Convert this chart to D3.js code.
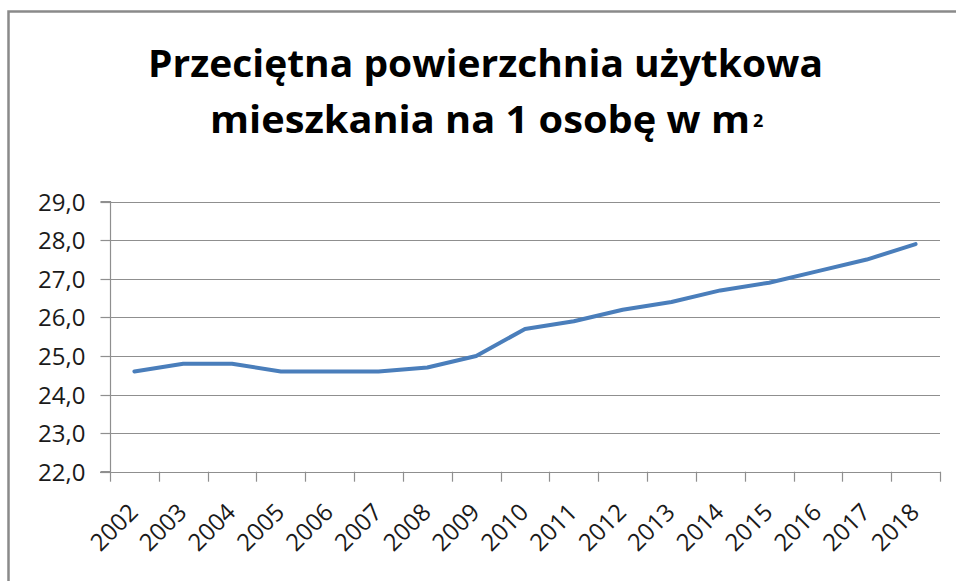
<!DOCTYPE html>
<html>
<head>
<meta charset="utf-8">
<script src="https://cdn.jsdelivr.net/npm/d3@7"></script>
<style>
  html, body { margin: 0; padding: 0; background: #fff; }
  svg { display: block; }
</style>
</head>
<body>
<svg id="chart" width="956" height="581"></svg>
<script>
const titleLine1 = "Przeciętna powierzchnia użytkowa";
const titleLine2 = "mieszkania na 1 osobę w m";
const titleSup = "2";
const years = ["2002","2003","2004","2005","2006","2007","2008","2009","2010","2011","2012","2013","2014","2015","2016","2017","2018"];
const values = [24.6, 24.8, 24.8, 24.6, 24.6, 24.6, 24.7, 25.0, 25.7, 25.9, 26.2, 26.4, 26.7, 26.9, 27.2, 27.5, 27.9];
const yTicks = [22, 23, 24, 25, 26, 27, 28, 29];

const svg = d3.select("#chart");
const font = "'Open Sans', 'Noto Sans', sans-serif";

// frame (left and top edges visible)
svg.append("path")
  .attr("d", "M8.5,581 L8.5,11.5 L956,11.5")
  .attr("fill", "none")
  .attr("stroke", "#8a8a8a")
  .attr("stroke-width", 2.5);

// title
svg.append("text")
  .attr("x", 148).attr("y", 77)
  .attr("font-family", font).attr("font-weight", 700).attr("font-size", 38)
  .attr("textLength", 675).attr("lengthAdjust", "spacingAndGlyphs")
  .attr("fill", "#000")
  .text(titleLine1);
svg.append("text")
  .attr("x", 210).attr("y", 133)
  .attr("font-family", font).attr("font-weight", 700).attr("font-size", 38)
  .attr("textLength", 540).attr("lengthAdjust", "spacingAndGlyphs")
  .attr("fill", "#000")
  .text(titleLine2);
svg.append("text")
  .attr("x", 753).attr("y", 127)
  .attr("font-family", font).attr("font-weight", 700).attr("font-size", 18)
  .attr("fill", "#000")
  .text(titleSup);

// scales
const x = d3.scaleBand().domain(years).range([110, 940]).paddingInner(0).paddingOuter(0);
const y = d3.scaleLinear().domain([22, 29]).range([471.7, 201.7]);

// gridlines
svg.append("g")
  .selectAll("line")
  .data(yTicks.slice(1))
  .join("line")
  .attr("x1", 110).attr("x2", 940)
  .attr("y1", d => Math.round(y(d)) + 0.5).attr("y2", d => Math.round(y(d)) + 0.5)
  .attr("stroke", "#8f8f8f").attr("stroke-width", 1.2);

// y axis
const yAxis = d3.axisLeft(y).tickValues(yTicks).tickSize(10).tickPadding(15)
  .tickFormat(d => d3.format(".1f")(d).replace(".", ","));
const gy = svg.append("g").attr("transform", "translate(110.5,0)").call(yAxis);
gy.select(".domain").attr("stroke", "#8f8f8f").attr("stroke-width", 1.2)
  .attr("d", `M-10,${y(29)}H0V${y(22)}H-10`);
gy.selectAll(".tick line").attr("stroke", "#8f8f8f").attr("stroke-width", 1.2);
gy.selectAll(".tick").attr("transform", d => `translate(0,${Math.round(y(d)) + 0.5})`);
gy.selectAll(".tick text")
  .attr("font-family", font).attr("font-size", 24).attr("fill", "#1a1a1a")
  .attr("dy", "0.36em");

// x axis
const xBoundaries = years.map(d => x(d)).concat([940]);
const gx = svg.append("g");
gx.append("line")
  .attr("x1", 100).attr("x2", 940)
  .attr("y1", Math.round(y(22)) + 0.5).attr("y2", Math.round(y(22)) + 0.5)
  .attr("stroke", "#8f8f8f").attr("stroke-width", 1.2);
gx.selectAll("line.tk")
  .data(xBoundaries)
  .join("line").attr("class", "tk")
  .attr("x1", d => Math.round(d) + 0.5).attr("x2", d => Math.round(d) + 0.5)
  .attr("y1", y(22)).attr("y2", y(22) + 10)
  .attr("stroke", "#8f8f8f").attr("stroke-width", 1.2);
gx.selectAll("text")
  .data(years)
  .join("text")
  .attr("transform", d => `translate(${x(d) + x.bandwidth() / 2 + 5},${y(22) + 42}) rotate(-45)`)
  .attr("text-anchor", "end")
  .attr("font-family", font).attr("font-size", 24).attr("fill", "#1a1a1a")
  .text(d => d);

// line
const line = d3.line()
  .x((d, i) => x(years[i]) + x.bandwidth() / 2)
  .y(d => y(d));
svg.append("path")
  .datum(values)
  .attr("d", line)
  .attr("fill", "none")
  .attr("stroke", "#4a7ebb")
  .attr("stroke-width", 4)
  .attr("stroke-linejoin", "round")
  .attr("stroke-linecap", "round");
</script>
</body>
</html>
